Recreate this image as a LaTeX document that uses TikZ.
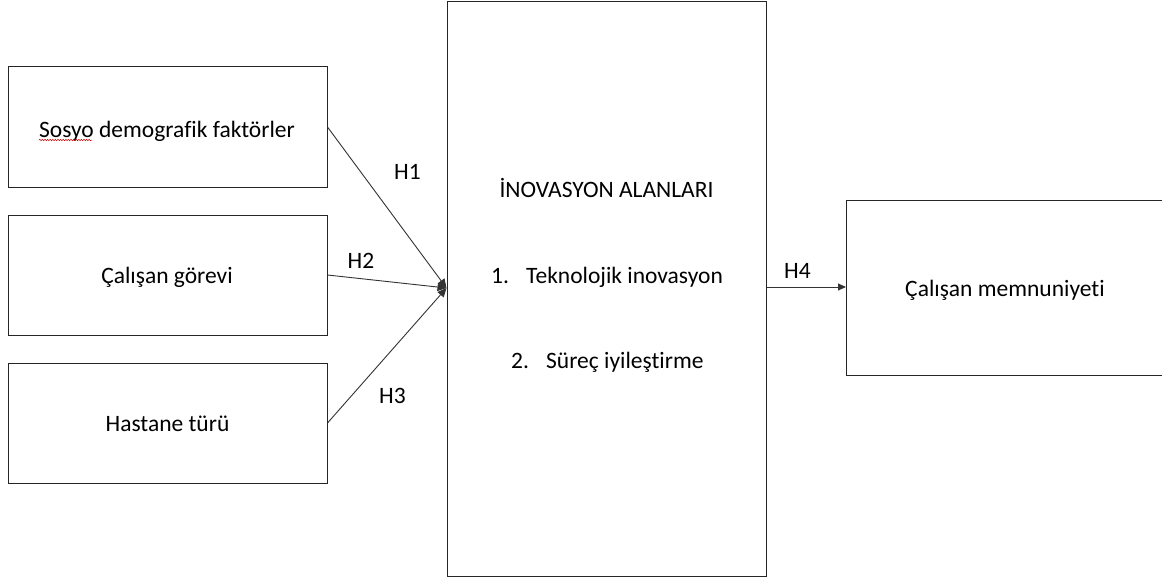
\documentclass[tikz,border=0pt]{standalone}
\usepackage{fontspec}
\setmainfont{Carlito}[Ligatures=NoCommon]
\usetikzlibrary{arrows.meta,decorations.pathmorphing}

\begin{document}
\begin{tikzpicture}[x=1pt,y=-1pt,
  box/.style={draw=black!85, line width=1pt, rectangle, inner sep=0pt, fill=white},
  txt/.style={inner sep=0pt, anchor=base, font=\fontsize{23.5}{28}\selectfont, text=black},
  link/.style={draw=black!80, line width=0.9pt, -{Triangle[length=9pt,width=8pt]}},
]
\useasboundingbox (0,0) rectangle (1162,578);
\clip (0,0) rectangle (1162,578);
\fill[white] (0,0) rectangle (1162,578);

% factor boxes on the left
\node[box, minimum width=319pt, minimum height=120pt] (b1) at (167.5,127) {};
\node[box, minimum width=319pt, minimum height=120pt] (b2) at (167.5,275) {};
\node[box, minimum width=319pt, minimum height=120pt] (b3) at (167.5,423) {};

% central box and outcome box
\node[box, minimum width=319pt, minimum height=574pt] (inv) at (606.5,289) {};
\node[box, minimum width=330pt, minimum height=175pt, anchor=north west] (sat) at (846,200) {};

% texts
\node[txt] (t1) at (167,137) {Sosyo demografik faktörler};
\node[txt] (t2) at (167,283) {Çalışan görevi};
\node[txt] (t3) at (167.5,431) {Hastane türü};
\node[txt] (ti) at (606.5,197) {İNOVASYON ALANLARI};
\node[txt, anchor=base west] (i1) at (491,283) {\makebox[35pt][l]{1.}Teknolojik inovasyon};
\node[txt, anchor=base west] (i2) at (511,368) {\makebox[35pt][l]{2.}Süreç iyileştirme};
\node[txt] (ts) at (1005,296) {Çalışan memnuniyeti};

% spelling mark under the first word
\draw[red!80!black, line width=0.5pt, decorate,
      decoration={snake, amplitude=0.7pt, segment length=2.6pt}]
  (39,140) -- (92,140);

% connectors
\coordinate (hub) at (inv.west |- 0,288);
\draw[link] (b1.east) -- (hub);
\draw[link] (b2.east) -- (hub);
\draw[link] (b3.east) -- (hub);
\draw[link, -{Triangle[length=8pt,width=7pt]}] (inv.east |- 0,287) -- (sat.west |- 0,287);

% hypothesis labels
\node[txt] (h1) at (407.5,179) {H1};
\node[txt] (h2) at (361,268) {H2};
\node[txt] (h3) at (392.5,403) {H3};
\node[txt] (h4) at (797.5,278) {H4};
\end{tikzpicture}
\end{document}
